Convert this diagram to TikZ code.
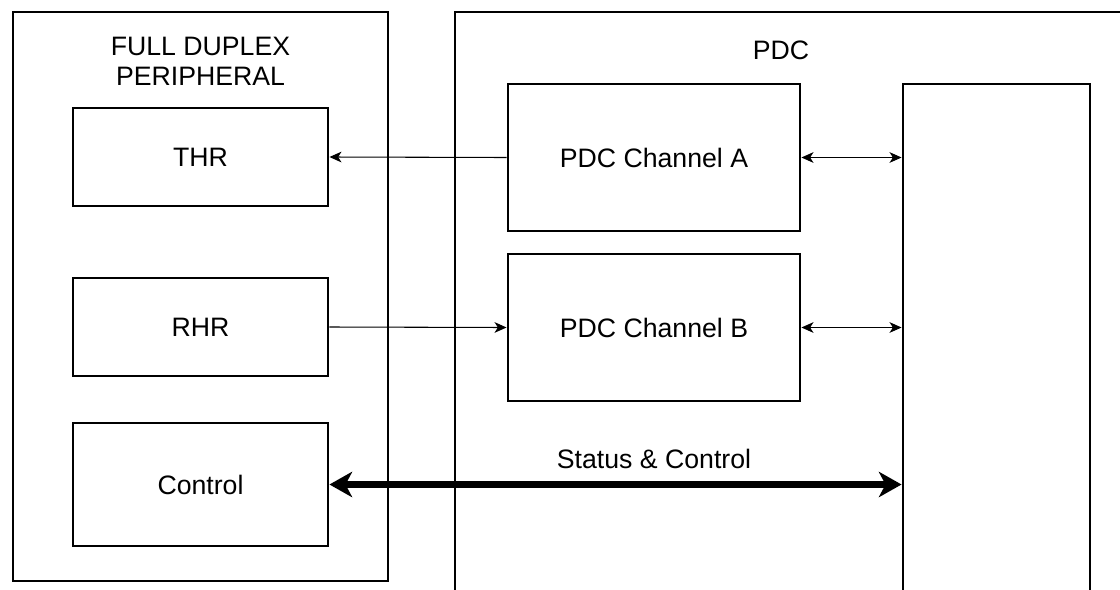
\documentclass[tikz,border=0pt]{standalone}
\usepackage{fontspec}
\setmainfont{Liberation Sans}
\usetikzlibrary{arrows.meta}
\begin{document}
\begin{tikzpicture}[x=0.75pt,y=-0.75pt,
  blk/.style={draw,line width=2.2pt,inner sep=0pt,font=\fontsize{20}{22.5}\selectfont},
  lbl/.style={font=\fontsize{20}{22.5}\selectfont,align=center,inner sep=0pt},
  thin/.style={line width=0.8pt,-{Stealth[length=9pt,width=8pt,inset=2.5pt]}},
  both/.style={line width=0.8pt,{Stealth[length=9pt,width=8pt,inset=2.5pt]}-{Stealth[length=9pt,width=8pt,inset=2.5pt]}},
  bus/.style={line width=5pt,{Stealth[length=17pt,width=19pt,inset=5pt]}-{Stealth[length=17pt,width=19pt,inset=5pt]}}]
\useasboundingbox (0,0) rectangle (1120,589);
\clip (0,0) rectangle (1120,589);
% peripheral side
\node[blk,minimum width=281.25pt,minimum height=426.75pt] (periph) at (200.5,296.5) {};
\node[lbl] (periphlbl) at (200.5,61) {FULL DUPLEX\\PERIPHERAL};
\node[blk,minimum width=191.25pt,minimum height=73.5pt] (thr) at (200.5,157) {THR};
\node[blk,minimum width=191.25pt,minimum height=73.5pt] (rhr) at (200.5,327) {RHR};
\node[blk,minimum width=191.25pt,minimum height=92.25pt] (ctrl) at (200.5,484.5) {Control};
% PDC side (open towards right and bottom)
\draw[line width=2.2pt] (455,640) -- (455,12) -- (1140,12);
\node[lbl] (pdclbl) at (781,50) {PDC};
\node[blk,minimum width=219pt,minimum height=110.25pt] (cha) at (654,157.5) {PDC Channel A};
\node[blk,minimum width=219pt,minimum height=110.25pt] (chb) at (654,327.5) {PDC Channel B};
\node[blk,minimum width=140.25pt,minimum height=480pt] (busblk) at (996.5,404) {};
% connectors
\draw[thin] (cha.west) -- (thr.east);
\draw[thin] (rhr.east) -- (chb.west);
\draw[both] (cha.east) -- (cha.east -| busblk.west);
\draw[both] (chb.east) -- (chb.east -| busblk.west);
\draw[bus] (ctrl.east) -- (ctrl.east -| busblk.west);
\node[lbl] (buslbl) at (654,459) {Status \& Control};
\end{tikzpicture}
\end{document}
